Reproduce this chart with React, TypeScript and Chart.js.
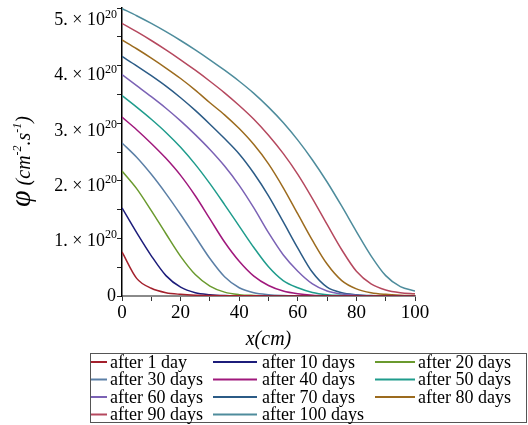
import React, { useEffect, useRef } from 'react';
import { Chart, registerables } from 'chart.js';

Chart.register(...registerables);

// x positions (cm)
const xPositions = [0, 5, 10, 15, 20, 25, 30, 35, 40, 45, 50, 55, 60, 65, 70, 75, 80, 85, 90, 95, 100];

// flux values in units of 10^20 cm^-2.s^-1
const after1Day = [0.8, 0.32, 0.14, 0.06, 0.03, 0.015, 0.01, 0.006, 0.004, 0.003, 0.002, 0.002, 0.001, 0.001, 0.001, 0, 0, 0, 0, 0, 0];
const after10Days = [1.6, 1.15, 0.73, 0.37, 0.16, 0.06, 0.025, 0.01, 0.005, 0.003, 0.002, 0.001, 0.001, 0, 0, 0, 0, 0, 0, 0, 0];
const after20Days = [2.27, 1.95, 1.55, 1.13, 0.72, 0.39, 0.18, 0.07, 0.025, 0.01, 0.004, 0.002, 0.001, 0, 0, 0, 0, 0, 0, 0, 0];
const after30Days = [2.78, 2.52, 2.21, 1.86, 1.48, 1.08, 0.68, 0.35, 0.15, 0.06, 0.025, 0.01, 0.004, 0.002, 0.001, 0, 0, 0, 0, 0, 0];
const after40Days = [3.25, 3.02, 2.77, 2.5, 2.19, 1.82, 1.4, 0.98, 0.63, 0.36, 0.19, 0.09, 0.04, 0.015, 0.006, 0.003, 0.001, 0, 0, 0, 0];
const after50Days = [3.64, 3.43, 3.21, 2.97, 2.7, 2.39, 2.04, 1.66, 1.27, 0.88, 0.53, 0.28, 0.15, 0.065, 0.025, 0.01, 0.004, 0.002, 0.001, 0, 0];
const after60Days = [4.02, 3.82, 3.62, 3.41, 3.18, 2.93, 2.66, 2.36, 2.01, 1.6, 1.15, 0.75, 0.45, 0.22, 0.09, 0.035, 0.015, 0.006, 0.003, 0.001, 0];
const after70Days = [4.35, 4.18, 4.0, 3.81, 3.6, 3.37, 3.12, 2.86, 2.58, 2.23, 1.82, 1.35, 0.87, 0.43, 0.16, 0.06, 0.025, 0.01, 0.005, 0.002, 0.001];
const after80Days = [4.65, 4.49, 4.32, 4.14, 3.95, 3.74, 3.51, 3.29, 3.04, 2.75, 2.4, 1.97, 1.49, 1.01, 0.58, 0.28, 0.13, 0.06, 0.03, 0.015, 0.008];
const after90Days = [4.95, 4.8, 4.64, 4.47, 4.29, 4.1, 3.9, 3.69, 3.46, 3.21, 2.92, 2.59, 2.21, 1.77, 1.3, 0.84, 0.45, 0.22, 0.11, 0.06, 0.04];
const after100Days = [5.22, 5.09, 4.95, 4.8, 4.64, 4.47, 4.29, 4.1, 3.9, 3.68, 3.43, 3.15, 2.83, 2.47, 2.07, 1.63, 1.17, 0.73, 0.37, 0.17, 0.09];

const seriesValues = [
  after1Day, after10Days, after20Days, after30Days, after40Days, after50Days,
  after60Days, after70Days, after80Days, after90Days, after100Days,
];
const seriesLabels = [
  'after 1 day', 'after 10 days', 'after 20 days', 'after 30 days', 'after 40 days', 'after 50 days',
  'after 60 days', 'after 70 days', 'after 80 days', 'after 90 days', 'after 100 days',
];
const seriesColors = [
  '#a3202c', '#1c1c7a', '#6a9a2e', '#5b7fa6', '#a0187c', '#1f9c8c',
  '#7b62b5', '#2b5b86', '#9c6b1e', '#b5485e', '#4e8c9c',
];

const xTickLabels = [0, 20, 40, 60, 80, 100];
const yTickLabels = [0, 1, 2, 3, 4, 5]; // multiples of 10^20
const Y_UNIT = 1e20;
const Y_MAX = 5.23;

const SERIF = '"Liberation Serif", "Times New Roman", "DejaVu Serif", serif';

const customText = {
  id: 'customText',
  afterDraw(chart: any) {
    const ctx: CanvasRenderingContext2D = chart.ctx;
    const yScale = chart.scales.y;

    // y tick labels: "N. × 10^20"
    ctx.save();
    ctx.fillStyle = '#000';
    ctx.textBaseline = 'middle';
    ctx.textAlign = 'left';
    const rightEdge = yScale.right - 5;
    for (const k of yTickLabels) {
      const y = yScale.getPixelForValue(k * Y_UNIT);
      if (k === 0) {
        ctx.font = `18px ${SERIF}`;
        const w = ctx.measureText('0').width;
        ctx.fillText('0', rightEdge - w - 1, y);
        continue;
      }
      const main = `${k}. × 10`;
      const sup = '20';
      ctx.font = `12px ${SERIF}`;
      const ws = ctx.measureText(sup).width;
      ctx.font = `18px ${SERIF}`;
      const wm = ctx.measureText(main).width;
      const x0 = rightEdge - ws - wm;
      ctx.fillText(main, x0, y);
      ctx.font = `12px ${SERIF}`;
      ctx.fillText(sup, x0 + wm, y - 6);
    }
    ctx.restore();

    // y axis title
    ctx.save();
    ctx.translate(30, 207);
    ctx.rotate(-Math.PI / 2);
    ctx.fillStyle = '#000';
    ctx.textBaseline = 'alphabetic';
    ctx.textAlign = 'left';
    const parts = [
      { t: 'φ', f: `italic 30px ${SERIF}`, dy: 0 },
      { t: ' (cm', f: `italic 20px ${SERIF}`, dy: 0 },
      { t: '-2', f: `italic 12px ${SERIF}`, dy: -9 },
      { t: '.s', f: `italic 20px ${SERIF}`, dy: 0 },
      { t: '-1', f: `italic 12px ${SERIF}`, dy: -9 },
      { t: ')', f: `italic 20px ${SERIF}`, dy: 0 },
    ];
    let px = 0;
    for (const p of parts) {
      ctx.font = p.f;
      ctx.fillText(p.t, px, p.dy);
      px += ctx.measureText(p.t).width;
    }
    ctx.restore();

    // legend grid
    ctx.save();
    ctx.strokeStyle = '#555';
    ctx.lineWidth = 1;
    ctx.strokeRect(90.5, 353.5, 436, 69);
    const lineX = [[91, 107], [213, 257], [375, 415]];
    const textX = [110, 262, 418];
    const rowY = [362, 379.5, 397, 414.5];
    ctx.font = `18px ${SERIF}`;
    ctx.textBaseline = 'middle';
    ctx.textAlign = 'left';
    chart.data.datasets.forEach((ds: any, i: number) => {
      const r = Math.floor(i / 3);
      const c = i % 3;
      const y = rowY[r];
      ctx.strokeStyle = ds.borderColor;
      ctx.lineWidth = 2;
      ctx.beginPath();
      ctx.moveTo(lineX[c][0], y);
      ctx.lineTo(lineX[c][1], y);
      ctx.stroke();
      ctx.fillStyle = '#000';
      ctx.fillText(ds.label, textX[c], y + 1);
    });
    ctx.restore();
  },
};

export default function App() {
  const canvasRef = useRef<HTMLCanvasElement | null>(null);

  useEffect(() => {
    if (!canvasRef.current) return;
    const datasets = seriesValues.map((vals, i) => ({
      label: seriesLabels[i],
      data: xPositions.map((x, j) => ({ x, y: vals[j] * Y_UNIT })),
      borderColor: seriesColors[i],
      backgroundColor: seriesColors[i],
      borderWidth: 1.5,
      pointRadius: 0,
      fill: false,
      cubicInterpolationMode: 'monotone' as const,
    }));

    const chart = new Chart(canvasRef.current, {
      type: 'line',
      data: { datasets },
      options: {
        responsive: false,
        animation: false,
        layout: { padding: { left: 0, right: 113, top: 8, bottom: 73 } },
        plugins: { legend: { display: false }, tooltip: { enabled: false } },
        scales: {
          x: {
            type: 'linear',
            min: 0,
            max: 100,
            border: { color: '#8a8a8a', width: 2 },
            grid: { drawOnChartArea: false, drawTicks: true, tickLength: 5, color: '#333' },
            ticks: {
              stepSize: 10,
              autoSkip: false,
              maxRotation: 0,
              includeBounds: false,
              padding: 1,
              color: '#000',
              font: { family: SERIF, size: 19 },
              callback: (value: any) => {
                const v = Number(value);
                return xTickLabels.includes(v) ? String(v) : '';
              },
            },
            title: {
              display: true,
              text: 'x(cm)',
              color: '#000',
              padding: 0,
              font: { family: SERIF, size: 20, style: 'italic', lineHeight: 1.2 },
            },
            afterFit: (s: any) => {
              s.height = 56;
              s.paddingLeft = 0;
              s.paddingRight = 0;
            },
          },
          y: {
            type: 'linear',
            min: 0,
            max: Y_MAX * Y_UNIT,
            border: { color: '#000', width: 1.5 },
            grid: { drawOnChartArea: false, drawTicks: true, tickLength: 5, color: '#222' },
            ticks: {
              stepSize: 0.5 * Y_UNIT,
              includeBounds: false,
              autoSkip: false,
              padding: 1,
              color: '#000',
              font: { family: SERIF, size: 18 },
              callback: () => '',
            },
            afterFit: (s: any) => {
              s.width = 122;
              s.paddingTop = 0;
              s.paddingBottom = 0;
            },
          },
        },
      },
      plugins: [customText],
    });
    return () => chart.destroy();
  }, []);

  return (
    <div style={{ position: 'fixed', left: 0, top: 0, width: 528, height: 425, background: '#fff' }}>
      <canvas ref={canvasRef} width={528} height={425} style={{ display: 'block' }} />
    </div>
  );
}
